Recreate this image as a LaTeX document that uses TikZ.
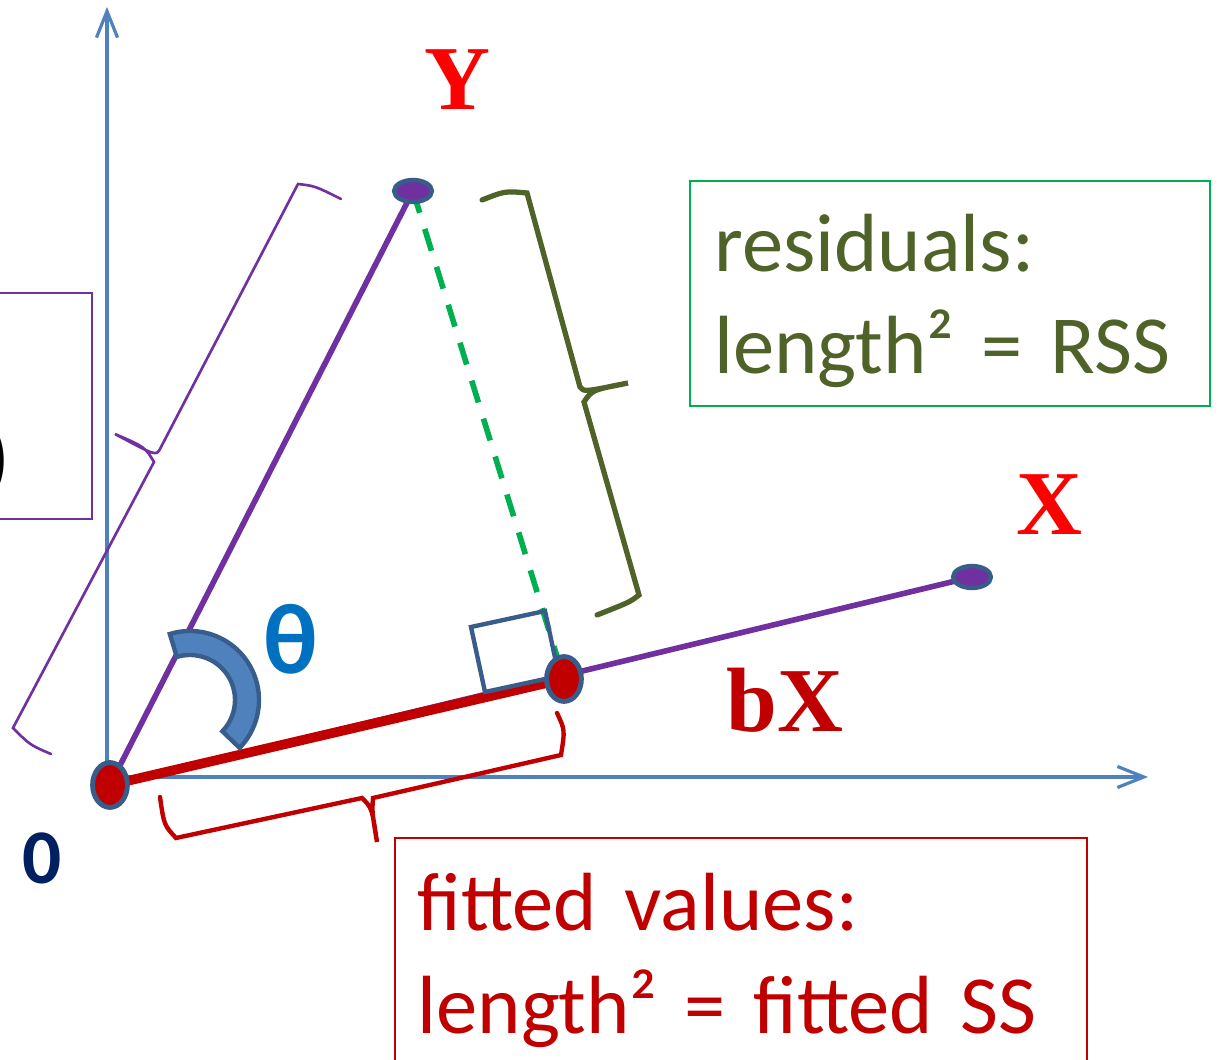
\documentclass[tikz,border=0pt]{standalone}
\usepackage{fontspec}
\setmainfont{Carlito}
\newfontfamily\timesGras{Liberation Serif}
\usepackage{xcolor}
\definecolor{geoAxe}{HTML}{4F81BD}
\definecolor{geoContour}{HTML}{385D8A}
\definecolor{geoViolet}{HTML}{7030A0}
\definecolor{geoRougeFonce}{HTML}{C00000}
\definecolor{geoRouge}{HTML}{FF0000}
\definecolor{geoVert}{HTML}{00B050}
\definecolor{geoOlive}{HTML}{4F6228}
\definecolor{geoMarine}{HTML}{002060}
\definecolor{geoBleuTheta}{HTML}{0070C0}
\usetikzlibrary{arrows.meta, shapes.geometric, backgrounds}
\tikzset{
  %% ── Points ───────────────────────────────────────────────────────────
  extremite/.style  = {ellipse, draw=geoContour, fill=geoViolet, line width=2.5pt,
                       inner sep=0pt, minimum width=21.5pt, minimum height=12.5pt},
  pointRouge/.style = {ellipse, draw=geoContour, fill=geoRougeFonce, line width=2.8pt,
                       inner sep=0pt, minimum width=19.8pt, minimum height=25.5pt},
  %%
  %% ── Lines ────────────────────────────────────────────────────────────
  axe/.style        = {draw=geoAxe, line width=1.8pt,
                       -{Straight Barb[length=15pt, width=12pt]}},
  vecteur/.style    = {draw=geoViolet, line width=3.2pt},
  vecteurAjuste/.style = {draw=geoRougeFonce, line width=5.5pt},
  residu/.style     = {draw=geoVert, line width=3.2pt, dash pattern=on 13pt off 9.6pt},
  angleDroit/.style = {draw=geoContour, line width=2.5pt},
  arcTheta/.style   = {draw=geoContour, fill=geoAxe, line width=2.5pt},
  accoladeViolette/.style = {draw=geoViolet, line width=1.5pt, line cap=round},
  accoladeVerte/.style    = {draw=geoOlive, line width=3pt, line cap=round},
  accoladeRouge/.style    = {draw=geoRougeFonce, line width=2.5pt, line cap=round},
  %%
  %% ── Text ─────────────────────────────────────────────────────────────
  boite/.style      = {anchor=north west, align=left, inner ysep=0pt,
                       font=\fontsize{47}{58.4}\selectfont},
  etiquetteSerif/.style = {inner sep=0pt, font=\timesGras\bfseries\fontsize{52}{52}\selectfont},
}

\begin{document}
\begin{tikzpicture}[x=0.02cm, y=-0.02cm]
\useasboundingbox (0,0) rectangle (1218,1060);

\coordinate (axeO) at (107,777);
\coordinate (axeFinX) at (1148,777);
\coordinate (axeFinY) at (107,7);

\node[extremite] (ptY) at (413,191) {};
\node[extremite] (ptX) at (972,577) {};
\node[pointRouge] (ptO) at (110,785) {};
\node[pointRouge] (ptbX) at (564,679) {};

\begin{scope}[on background layer]
  \draw[axe] (axeO) -- (axeFinY);
  \draw[axe] (axeO) -- (axeFinX);
  \draw[vecteur] (ptO.center) -- (ptY.center);
  \draw[vecteur] (ptO.center) -- (ptX.center);
  \draw[vecteurAjuste] (ptO.center) -- (ptbX.center);
  \draw[residu] (ptY.center) -- (ptbX.center);
  \draw[angleDroit] (471,627) -- (545,611) -- (559,676) -- (485,692) -- cycle;
\end{scope}

\begin{scope}[shift={(190,700)}]
  \draw[arcTheta] (-107:69) arc[start angle=-107, end angle=44, radius=69]
    -- (44:45) arc[start angle=44, end angle=-107, radius=45] -- cycle;
\end{scope}

\draw[accoladeViolette] (341,199) .. controls (315,186) .. (298,184) -- (160,449)
  .. controls (156,456) .. (115,434) .. controls (145,447) .. (154,462) -- (13,728)
  .. controls (30,745) .. (51,754);
\draw[accoladeVerte] (482,200) .. controls (505,191) .. (527,193) -- (580,387)
  .. controls (584,392) .. (628,383) .. controls (592,390) .. (584,402) -- (639,595)
  .. controls (630,602) .. (597,615);
\draw[accoladeRouge] (160,797) .. controls (164,825) .. (176,838) -- (362,798)
  .. controls (372,808) .. (377,842) .. controls (372,812) .. (373,798) -- (561,755)
  .. controls (565,730) .. (557,713);

\node[etiquetteSerif, text=geoRouge] (lblY) at (457,80) {Y};
\node[etiquetteSerif, text=geoRouge] (lblX) at (1049,505) {X};
\node[etiquetteSerif, text=geoRougeFonce] (lblbX) at (785,700) {bX};
\node[inner sep=0pt, text=geoMarine, font=\bfseries\fontsize{44}{44}\selectfont] (lblO) at (42,858) {0};
\node[inner sep=0pt, text=geoBleuTheta, font=\bfseries\fontsize{57}{57}\selectfont] (lblTheta) at (291,639) {θ};

\node[boite, draw=geoVert, line width=1.1pt, text=geoOlive, text width=268pt,
      inner xsep=14pt, minimum height=128pt, text height=41pt] (boiteResidus) at (689,180)
     {residuals:\\length² = RSS};
\node[boite, draw=geoRougeFonce, line width=0.9pt, text=geoRougeFonce, text width=368pt,
      inner xsep=13pt, minimum height=139.5pt] (boiteAjuste) at (394,837)
     {fitted values:\\length² = fitted SS};

\draw[draw=geoViolet, line width=1.1pt] (-10,293) rectangle (92,519);
\node[anchor=east, inner sep=0pt, font=\bfseries\fontsize{47}{47}\selectfont] (parGauche) at (10,461) {)};

\end{tikzpicture}
\end{document}
